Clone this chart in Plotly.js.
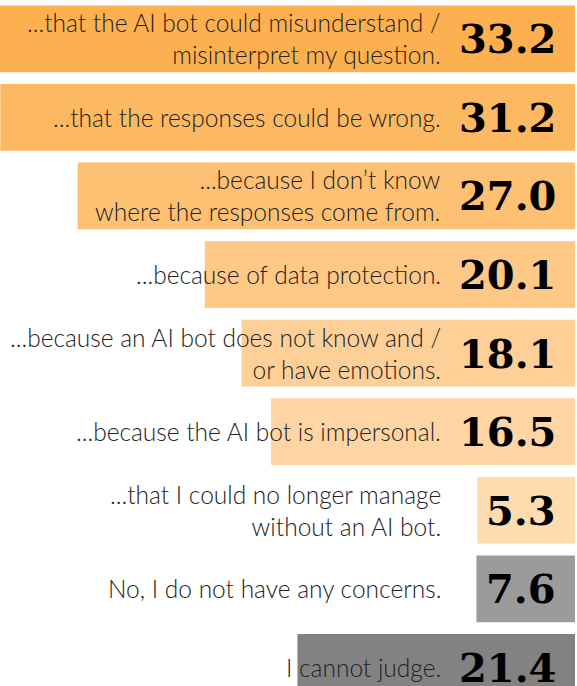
<!DOCTYPE html>
<html>
<head>
<meta charset="utf-8">
<script src="https://cdn.plot.ly/plotly-3.0.1.min.js"></script>
<style>
  html, body { margin: 0; padding: 0; background: #ffffff; }
  #chart { width: 577px; height: 686px; }
</style>
</head>
<body>
<div id="chart"></div>
<script>
// Concern categories (orange) and no-concern/cannot-judge (grey)
var concernLabels = [
  "...that the AI bot could misunderstand /<br>misinterpret my question.",
  "...that the responses could be wrong.",
  "...because I don’t know<br>where the responses come from.",
  "...because of data protection.",
  "...because an AI bot does not know and /<br>or have emotions.",
  "...because the AI bot is impersonal.",
  "...that I could no longer manage<br>without an AI bot."
];
var concernValues = [33.2, 31.2, 27.0, 20.1, 18.1, 16.5, 5.3];
var concernColors = ["#fdb050", "#fdb961", "#fec072", "#fec887", "#fed098", "#fed5a3", "#ffdcb0"];

var otherLabels = [
  "No, I do not have any concerns.",
  "I cannot judge."
];
var otherValues = [7.6, 21.4];
var otherColors = ["#9b9b9b", "#828282"];

var allLabels = concernLabels.concat(otherLabels);
var allValues = concernValues.concat(otherValues);

var traces = [
  {
    type: "bar", orientation: "h",
    x: concernValues, y: concernLabels,
    marker: { color: concernColors, line: { width: 0 } },
    xaxis: "x", yaxis: "y",
    hoverinfo: "skip", showlegend: false
  },
  {
    type: "bar", orientation: "h",
    x: otherValues, y: otherLabels,
    marker: { color: otherColors, line: { width: 0 } },
    xaxis: "x2", yaxis: "y",
    hoverinfo: "skip", showlegend: false
  }
];

var annotations = [];
allLabels.forEach(function (lab, i) {
  annotations.push({
    xref: "paper", yref: "y", x: 443 / 575, y: lab,
    xanchor: "right", yanchor: "middle", align: "right",
    text: lab, showarrow: false,
    font: { family: "Lato, 'Noto Sans', sans-serif", weight: 300, size: 24.5, color: "#222222" }
  });
  annotations.push({
    xref: "paper", yref: "y", x: 557.5 / 575, y: lab,
    xanchor: "right", yanchor: "middle", align: "right",
    text: allValues[i].toFixed(1), showarrow: false,
    font: { family: "'DejaVu Serif', serif", weight: 700, size: 40, color: "#000000" }
  });
});

var layout = {
  width: 577, height: 686,
  margin: { l: 0, r: 2, t: 0, b: 0, pad: 0 },
  paper_bgcolor: "#ffffff", plot_bgcolor: "#ffffff",
  bargap: 0.151,
  xaxis: { range: [575 / 18.42, 0], visible: false, fixedrange: true },
  xaxis2: { range: [575 / 12.97, 0], visible: false, overlaying: "x", fixedrange: true },
  yaxis: {
    type: "category", categoryorder: "array", categoryarray: allLabels,
    range: [8.237, -0.494], visible: false, fixedrange: true
  },
  annotations: annotations,
  showlegend: false
};

Plotly.newPlot("chart", traces, layout, { displayModeBar: false, staticPlot: true });
</script>
</body>
</html>
